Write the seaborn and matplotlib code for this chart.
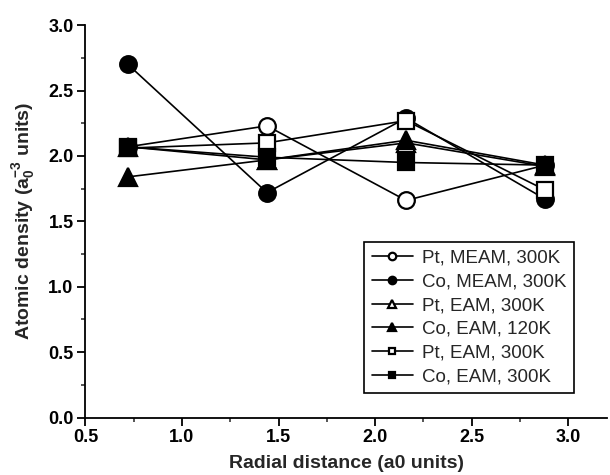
import matplotlib
matplotlib.use("Agg")
import matplotlib.pyplot as plt
import seaborn as sns
import pandas as pd
from matplotlib.ticker import MultipleLocator

sns.set_theme(style="ticks")
plt.rcParams['font.family'] = ['Liberation Sans', 'DejaVu Sans']

radial = [0.72, 1.44, 2.16, 2.88]
labels = ["Pt, MEAM, 300K", "Co, MEAM, 300K", "Pt, EAM, 300K",
          "Co, EAM, 120K", "Pt, EAM, 300K", "Co, EAM, 300K"]
pt_meam = [2.07, 2.23, 1.66, 1.93]
co_meam = [2.70, 1.72, 2.29, 1.67]
pt_eam_tri = [2.07, 1.97, 2.10, 1.92]
co_eam_120 = [1.84, 1.97, 2.12, 1.93]
pt_eam_sq = [2.06, 2.10, 2.27, 1.74]
co_eam_300 = [2.07, 1.99, 1.95, 1.93]

series = [pt_meam, co_meam, pt_eam_tri, co_eam_120, pt_eam_sq, co_eam_300]
markers = ['o', 'o', '^', '^', 's', 's']
filled = [False, True, False, True, False, True]
msizes = {'o': 12, '^': 13.5, 's': 11}

fig = plt.figure(figsize=(6.1, 4.75), dpi=100)
ax = fig.add_axes([0.14, 0.121, 0.855, 0.826])

for vals, lab, m, f in zip(series, labels, markers, filled):
    df = pd.DataFrame({"x": radial, "y": vals})
    sns.lineplot(data=df, x="x", y="y", ax=ax, color="black", lw=1.2,
                 marker=m, markersize=msizes[m],
                 markerfacecolor="black" if f else "white",
                 markeredgecolor="black", markeredgewidth=1.6,
                 label=lab, legend=False)

ax.set_xlim(0.5, 3.2)
ax.set_ylim(0.0, 3.0)
ax.xaxis.set_major_locator(MultipleLocator(0.5))
ax.xaxis.set_minor_locator(MultipleLocator(0.25))
ax.yaxis.set_major_locator(MultipleLocator(0.5))
ax.yaxis.set_minor_locator(MultipleLocator(0.25))
ax.tick_params(which='major', direction='out', length=5.5, width=1.3,
               labelsize=13, colors='black', pad=3)
ax.tick_params(which='minor', direction='out', length=3, width=1.1)
for lbl in ax.get_xticklabels() + ax.get_yticklabels():
    lbl.set_fontweight('bold')
for s in ['top', 'right']:
    ax.spines[s].set_visible(False)
for s in ['left', 'bottom']:
    ax.spines[s].set_color('black')
    ax.spines[s].set_linewidth(1.3)

ax.set_xlabel("Radial distance (a0 units)", fontsize=14, fontweight='bold',
              labelpad=6)
ax.set_ylabel(r"Atomic density (a$\mathregular{_0^{-3}}$ units)", fontsize=14,
              fontweight='bold', labelpad=8)

handles, labs = ax.get_legend_handles_labels()
leg = ax.legend(handles, labs, loc='lower right', bbox_to_anchor=(0.9376, 0.062),
                frameon=True, fancybox=False, fontsize=13.5, markerscale=0.45,
                handlelength=2.2, handletextpad=0.5, borderpad=0.4,
                borderaxespad=0, labelspacing=0.36, edgecolor='black',
                framealpha=1)
leg.get_frame().set_linewidth(1.2)

fig.savefig("out.png", dpi=100, facecolor='white')
